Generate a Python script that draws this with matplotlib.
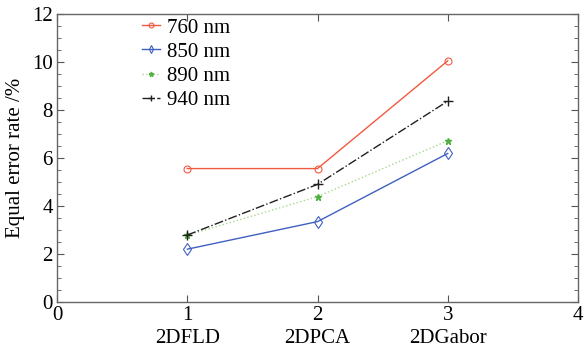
import matplotlib
matplotlib.use("Agg")
import matplotlib.pyplot as plt
from matplotlib.ticker import MultipleLocator

x = [1, 2, 3]
methods = ["2DFLD", "2DPCA", "2DGabor"]
err_760 = [5.56, 5.56, 10.05]
err_850 = [2.2, 3.35, 6.19]
err_890 = [2.78, 4.39, 6.72]
err_940 = [2.79, 4.9, 8.37]

plt.rcParams['font.family'] = ['Liberation Serif', 'DejaVu Serif']
plt.rcParams['font.size'] = 15

fig = plt.figure(figsize=(5.88, 3.54), dpi=100)
ax = fig.add_axes([57 / 588, 52 / 354, 521 / 588, 288 / 354])

ax.plot(x, err_760, color='#f05a40', lw=1.0, marker='o', ms=5, mfc='none', mew=0.8, label='760 nm')
ax.plot(x, err_850, color='#4060c0', lw=1.0, marker='d', ms=6, mfc='none', mew=0.8, label='850 nm')
ax.plot(x, err_890, color='#a8d890', lw=1.0, ls=':', marker='*', ms=5, mfc='#50b040', mec='#50b040', label='890 nm')
ax.plot(x, err_940, color='#202020', lw=1.0, ls='-.', marker='+', ms=7, mew=1.0, label='940 nm')

ax.set_xlim(0, 4)
ax.set_ylim(0, 12)
ax.set_xticks([0, 1, 2, 3, 4])
ax.set_xticklabels(['0'] + [f'{i}\n{m}' for i, m in zip(x, methods)] + ['4'], va='top', linespacing=1.3)
ax.yaxis.set_major_locator(MultipleLocator(2))
ax.yaxis.set_minor_locator(MultipleLocator(0.5))
ax.tick_params(direction='in', top=True, right=True, which='both', color='#555555')
ax.tick_params(which='major', length=5)
ax.tick_params(which='minor', length=3)
ax.tick_params(axis='x', pad=3)
ax.tick_params(axis='y', pad=3)
for s in ax.spines.values():
    s.set_color('#666666')
    s.set_linewidth(1.0)
ax.set_ylabel('Equal error rate /%', labelpad=5)

fig.legend(loc='upper left', bbox_to_anchor=(142 / 588, 1 - 18 / 354), frameon=False,
           borderpad=0, borderaxespad=0, handlelength=0.87, handletextpad=0.35,
           labelspacing=0.22, markerscale=0.7)

fig.savefig('out.png', dpi=100, facecolor='white')
